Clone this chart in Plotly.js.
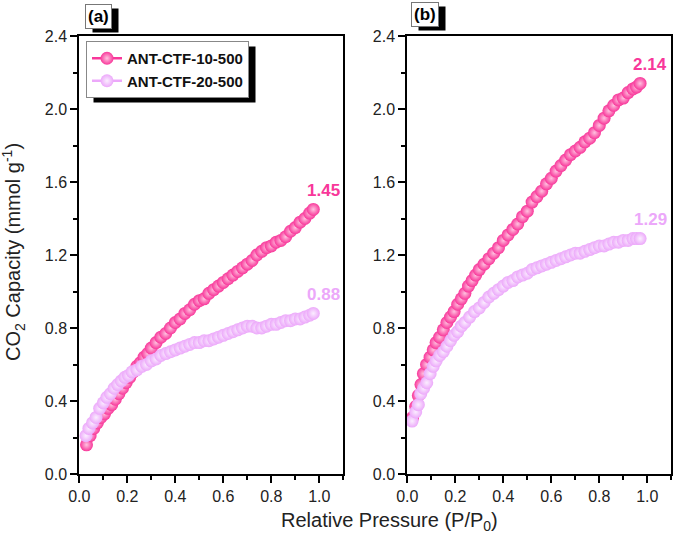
<!DOCTYPE html>
<html><head><meta charset="utf-8">
<script src="https://cdn.plot.ly/plotly-3.0.1.min.js"></script>
<style>html,body{margin:0;padding:0;background:#fff}</style>
</head><body><div id="chart" style="width:674px;height:539px"></div>
<script>
const seriesNames = ['ANT-CTF-10-500', 'ANT-CTF-20-500'];
const panelLabels = ['(a)', '(b)'];
const xTickVals = [0.0, 0.2, 0.4, 0.6, 0.8, 1.0];
const yTickVals = [0.0, 0.4, 0.8, 1.2, 1.6, 2.0, 2.4];

// Panel (a)
const a10_x = [0.030,0.045,0.060,0.075,0.090,0.105,0.120,0.135,0.150,0.165,0.180,0.195,0.210,0.225,0.240,0.255,0.270,0.285,0.300,0.320,0.340,0.360,0.380,0.400,0.420,0.440,0.460,0.480,0.500,0.520,0.540,0.560,0.580,0.600,0.620,0.640,0.660,0.680,0.700,0.720,0.740,0.760,0.780,0.800,0.820,0.840,0.860,0.880,0.900,0.920,0.940,0.960,0.975];
const a10_y = [0.16,0.21,0.25,0.28,0.31,0.33,0.36,0.38,0.41,0.44,0.47,0.50,0.53,0.56,0.59,0.61,0.64,0.66,0.69,0.72,0.75,0.77,0.80,0.83,0.85,0.88,0.90,0.93,0.95,0.96,0.99,1.01,1.03,1.05,1.07,1.09,1.11,1.13,1.15,1.17,1.20,1.22,1.24,1.25,1.27,1.28,1.30,1.33,1.35,1.38,1.40,1.43,1.45];
const a20_x = [0.028,0.040,0.055,0.070,0.085,0.100,0.115,0.130,0.145,0.160,0.175,0.190,0.205,0.220,0.240,0.260,0.280,0.300,0.320,0.340,0.360,0.380,0.400,0.420,0.440,0.460,0.480,0.500,0.520,0.540,0.560,0.580,0.600,0.620,0.640,0.660,0.680,0.700,0.720,0.740,0.760,0.780,0.800,0.820,0.840,0.860,0.880,0.900,0.920,0.940,0.960,0.975];
const a20_y = [0.21,0.25,0.28,0.31,0.36,0.39,0.42,0.44,0.47,0.49,0.51,0.53,0.54,0.56,0.57,0.59,0.60,0.62,0.63,0.65,0.66,0.67,0.68,0.69,0.70,0.71,0.72,0.72,0.73,0.73,0.74,0.75,0.76,0.77,0.78,0.79,0.80,0.81,0.81,0.80,0.80,0.81,0.82,0.82,0.83,0.84,0.84,0.85,0.85,0.86,0.87,0.88];

// Panel (b)
const b10_x = [0.022,0.035,0.046,0.057,0.067,0.080,0.095,0.108,0.120,0.135,0.150,0.165,0.180,0.195,0.210,0.225,0.240,0.255,0.270,0.285,0.300,0.320,0.340,0.360,0.380,0.400,0.420,0.440,0.460,0.480,0.500,0.520,0.540,0.560,0.580,0.600,0.620,0.640,0.660,0.680,0.700,0.720,0.740,0.760,0.780,0.800,0.820,0.840,0.860,0.880,0.900,0.920,0.940,0.955,0.970];
const b10_y = [0.31,0.37,0.43,0.49,0.55,0.60,0.64,0.68,0.72,0.75,0.79,0.83,0.86,0.89,0.93,0.96,0.99,1.03,1.06,1.09,1.12,1.15,1.18,1.21,1.24,1.28,1.31,1.34,1.37,1.41,1.44,1.49,1.52,1.55,1.59,1.62,1.66,1.69,1.72,1.75,1.77,1.79,1.82,1.84,1.87,1.91,1.95,1.99,2.02,2.05,2.06,2.09,2.11,2.12,2.14];
const b20_x = [0.020,0.035,0.046,0.056,0.068,0.081,0.095,0.108,0.120,0.135,0.150,0.165,0.180,0.195,0.210,0.225,0.240,0.260,0.280,0.300,0.320,0.340,0.360,0.380,0.400,0.420,0.440,0.460,0.480,0.500,0.520,0.540,0.560,0.580,0.600,0.620,0.640,0.660,0.680,0.700,0.720,0.740,0.760,0.780,0.800,0.820,0.840,0.860,0.880,0.900,0.920,0.940,0.955,0.970];
const b20_y = [0.29,0.34,0.38,0.44,0.47,0.50,0.55,0.59,0.62,0.65,0.67,0.70,0.73,0.76,0.78,0.81,0.83,0.86,0.89,0.91,0.94,0.97,0.99,1.01,1.03,1.05,1.06,1.08,1.09,1.10,1.12,1.13,1.14,1.15,1.16,1.17,1.18,1.19,1.20,1.21,1.21,1.22,1.23,1.24,1.25,1.25,1.26,1.27,1.27,1.28,1.28,1.29,1.29,1.29];

const PINK = '#F8379A';
const VIOLET = '#ECA8FA';
const FONT = 'Liberation Sans, Arial, sans-serif';
const W = 674, H = 539;
const px = v => v / W;
const py = v => 1 - v / H;

function trace(x, y, name, color, grad, xa, ya, showlegend) {
  return {
    x, y, name, xaxis: xa, yaxis: ya, showlegend,
    type: 'scatter', mode: 'lines+markers',
    line: {color, width: 2.5},
    marker: {color, size: 13, line: {width: 0}, gradient: {type: 'radial', color: grad}},
    cliponaxis: false
  };
}

const data = [
  trace(a10_x, a10_y, seriesNames[0], PINK, '#FFC2E0', 'x', 'y', true),
  trace(a20_x, a20_y, seriesNames[1], VIOLET, '#FBEEFF', 'x', 'y', true),
  trace(b10_x, b10_y, seriesNames[0], PINK, '#FFC2E0', 'x2', 'y2', false),
  trace(b20_x, b20_y, seriesNames[1], VIOLET, '#FBEEFF', 'x2', 'y2', false)
];

function xaxis(domain, anchor) {
  return {
    domain, anchor, range: [0, 1.1], tickmode: 'array', tickvals: xTickVals,
    ticktext: xTickVals.map(v => v.toFixed(1)),
    ticks: 'outside', ticklen: 7, tickwidth: 2, tickcolor: '#000',
    showline: true, linewidth: 2, linecolor: '#000', mirror: true,
    showgrid: false, zeroline: false,
    tickfont: {family: FONT, size: 16, color: '#222'},
    minor: {dtick: 0.1, tick0: 0, ticks: 'outside', ticklen: 4, tickwidth: 2, tickcolor: '#000', showgrid: false},
    fixedrange: true
  };
}
function yaxis(anchor) {
  return {
    domain: [py(474), py(36)], anchor, range: [0, 2.4], tickmode: 'array', tickvals: yTickVals,
    ticktext: yTickVals.map(v => v.toFixed(1)),
    ticks: 'outside', ticklen: 7, tickwidth: 2, tickcolor: '#000',
    showline: true, linewidth: 2, linecolor: '#000', mirror: true,
    showgrid: false, zeroline: false,
    tickfont: {family: FONT, size: 16, color: '#222'},
    minor: {dtick: 0.2, tick0: 0, ticks: 'outside', ticklen: 4, tickwidth: 2, tickcolor: '#000', showgrid: false},
    fixedrange: true
  };
}

function endLabel(xs, ys, color, xref, yref) {
  const i = xs.length - 1;
  return {
    x: xs[i], y: ys[i], xref, yref, text: '<b>' + ys[i].toFixed(2) + '</b>',
    showarrow: false, xshift: 10, yshift: 19,
    font: {family: FONT, size: 17, color}
  };
}

function panelLabel(text, cx, cy) {
  return {
    x: px(cx), y: py(cy), xref: 'paper', yref: 'paper', text: '<b>' + text + '</b>',
    showarrow: false, xanchor: 'center', yanchor: 'middle',
    bgcolor: '#fff', bordercolor: '#777', borderwidth: 1, borderpad: 2,
    font: {family: FONT, size: 17, color: '#000'}
  };
}

const layout = {
  width: W, height: H,
  margin: {l: 0, r: 0, t: 0, b: 0},
  paper_bgcolor: '#fff', plot_bgcolor: '#fff',
  font: {family: FONT, color: '#222'},
  xaxis: xaxis([px(79.3), px(343.3)], 'y'),
  yaxis: yaxis('x'),
  xaxis2: xaxis([px(407.3), px(671.3)], 'y2'),
  yaxis2: yaxis('x2'),
  showlegend: true,
  legend: {
    x: px(86), y: py(41), xanchor: 'left', yanchor: 'top',
    bgcolor: '#fff', bordercolor: '#888', borderwidth: 1,
    font: {family: FONT, size: 15, color: '#111', weight: 'bold'},
    tracegroupgap: 0, itemwidth: 30
  },
  shapes: [],
  annotations: [
    panelLabel(panelLabels[0], 98.5, 17),
    panelLabel(panelLabels[1], 424.5, 14),
    endLabel(a10_x, a10_y, PINK, 'x', 'y'),
    endLabel(a20_x, a20_y, VIOLET, 'x', 'y'),
    endLabel(b10_x, b10_y, PINK, 'x2', 'y2'),
    endLabel(b20_x, b20_y, VIOLET, 'x2', 'y2'),
    {x: px(14), y: py(252), xref: 'paper', yref: 'paper', showarrow: false, textangle: -90,
     xanchor: 'center', yanchor: 'middle',
     text: 'CO<sub>2</sub> Capacity (mmol g<sup>-1</sup>)', font: {family: FONT, size: 20, color: '#222'}},
    {x: px(389), y: py(521), xref: 'paper', yref: 'paper', showarrow: false,
     xanchor: 'center', yanchor: 'middle',
     text: 'Relative Pressure (P/P<sub>0</sub>)', font: {family: FONT, size: 20, color: '#222'}}
  ]
};

Plotly.newPlot('chart', data, layout, {displayModeBar: false, staticPlot: true}).then(gd => {
  const root = gd.getBoundingClientRect();
  function box(el) {
    const r = el.getBoundingClientRect();
    return [r.left - root.left, r.top - root.top, r.right - root.left, r.bottom - root.top];
  }
  function shadow(b, dx, dy) {
    return {type: 'rect', xref: 'paper', yref: 'paper',
            x0: px(b[0] + dx), x1: px(b[2] + dx), y0: py(b[3] + dy), y1: py(b[1] + dy),
            fillcolor: '#000', line: {width: 0}, layer: 'above'};
  }
  const shapes = [];
  const lg = gd.querySelector('.legend rect.bg');
  if (lg) shapes.push(shadow(box(lg), 7, 5));
  const anns = gd.querySelectorAll('.annotation');
  for (let i = 0; i < 2 && i < anns.length; i++) {
    const bg = anns[i].querySelector('rect.bg');
    if (bg) shapes.push(shadow(box(bg), 7, 4));
  }
  return Plotly.relayout(gd, {shapes});
});
</script>
</body></html>
